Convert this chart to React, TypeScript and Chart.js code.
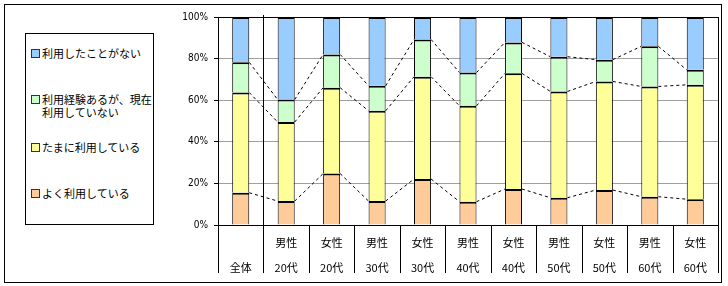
import React, { useEffect, useRef } from "react";
import { Chart, registerables } from "chart.js";

Chart.register(...registerables);

const categoriesTop = ["", "男性", "女性", "男性", "女性", "男性", "女性", "男性", "女性", "男性", "女性"];
const categoriesBottom = ["全体", "20代", "20代", "30代", "30代", "40代", "40代", "50代", "50代", "60代", "60代"];
const seriesNames = ["よく利用している", "たまに利用している", "利用経験あるが、現在利用していない", "利用したことがない"];
const oftenUse = [15.5, 11.5, 24.7, 11.5, 22.1, 11.2, 17.3, 13.1, 16.8, 13.6, 12.4];
const sometimesUse = [48.2, 38.0, 41.3, 43.4, 49.2, 46.1, 55.6, 51.1, 52.2, 53.0, 55.0];
const usedBefore = [14.5, 10.8, 16.0, 12.0, 17.9, 16.0, 14.9, 16.7, 10.5, 19.3, 7.2];
const neverUsed = [21.8, 39.7, 18.0, 33.1, 10.8, 26.7, 12.2, 19.1, 20.5, 14.1, 25.4];
const yTicks = [0, 20, 40, 60, 80, 100];

const colors = ["#FFCC99", "#FFFF99", "#CCFFCC", "#99CCFF"];

const legendItems = [
  { lines: ["利用したことがない"], color: colors[3], y: 53 },
  { lines: ["利用経験あるが、現在", "利用していない"], color: colors[2], y: 99 },
  { lines: ["たまに利用している"], color: colors[1], y: 147 },
  { lines: ["よく利用している"], color: colors[0], y: 193 },
];

const JP = "'Noto Sans CJK JP', 'Noto Sans', sans-serif";

const decorPlugin = {
  id: "decor",
  afterDatasetsDraw(chart: any) {
    const ctx = chart.ctx;
    const area = chart.chartArea;
    // dashed series lines
    ctx.save();
    ctx.strokeStyle = "#000";
    ctx.lineWidth = 1;
    ctx.setLineDash([3, 3]);
    for (let d = 0; d < 3; d++) {
      const meta = chart.getDatasetMeta(d);
      for (let i = 0; i < meta.data.length - 1; i++) {
        const a = meta.data[i] as any;
        const b = meta.data[i + 1] as any;
        ctx.beginPath();
        ctx.moveTo(a.x + a.width / 2, a.y);
        ctx.lineTo(b.x - b.width / 2, b.y);
        ctx.stroke();
      }
    }
    ctx.restore();
  },
  afterDraw(chart: any) {
    const ctx = chart.ctx;
    const area = chart.chartArea;
    const xs = chart.scales.x;
    ctx.save();
    ctx.strokeStyle = "#000";
    ctx.lineWidth = 1;
    ctx.setLineDash([]);
    // plot border
    ctx.strokeRect(Math.round(area.left) + 0.5, Math.round(area.top) + 0.5, Math.round(area.right - area.left), Math.round(area.bottom - area.top));
    const n = categoriesBottom.length;
    const step = (area.right - area.left) / n;
    const labelBottom = 273;
    for (let k = 0; k <= n; k++) {
      const x = Math.round(xs.getPixelForValue(k) - step / 2) + 0.5;
      ctx.beginPath();
      if (k === 1) {
        ctx.moveTo(x, area.top - 2);
      } else {
        ctx.moveTo(x, area.bottom);
      }
      ctx.lineTo(x, labelBottom);
      ctx.stroke();
    }
    ctx.fillStyle = "#000";
    ctx.font = "11px " + JP;
    ctx.textAlign = "center";
    ctx.textBaseline = "middle";
    for (let i = 0; i < n; i++) {
      const x = xs.getPixelForValue(i);
      if (categoriesTop[i]) ctx.fillText(categoriesTop[i], x, 243);
      ctx.fillText(categoriesBottom[i], x, 268);
    }
    ctx.restore();
  },
};

export default function App() {
  const ref = useRef<HTMLCanvasElement | null>(null);
  useEffect(() => {
    if (!ref.current) return;
    const seriesData = [oftenUse, sometimesUse, usedBefore, neverUsed];
    const chart = new Chart(ref.current, {
      type: "bar",
      data: {
        labels: categoriesBottom,
        datasets: seriesData.map((d, i) => ({
          label: seriesNames[i],
          data: d,
          backgroundColor: colors[i],
          borderColor: "#000",
          borderWidth: { top: 2, left: 1, right: 1, bottom: 0 },
          borderSkipped: false,
          categoryPercentage: 1,
          barPercentage: 0.375,
        })),
      },
      options: {
        animation: false,
        responsive: false,
        maintainAspectRatio: false,
        devicePixelRatio: 1,
        layout: { padding: { left: 0, top: 17, right: 10, bottom: 61 } },
        plugins: { legend: { display: false }, tooltip: { enabled: false } },
        scales: {
          x: { stacked: true, display: false },
          y: {
            stacked: true,
            min: 0,
            max: 100,
            afterFit: (s: any) => {
              s.width = 218;
            },
            afterBuildTicks: (s: any) => {
              s.ticks = yTicks.map((v) => ({ value: v }));
            },
            ticks: {
              padding: 6,
              color: "#000",
              font: { family: "'Liberation Sans Narrow', 'DejaVu Sans Condensed', 'Liberation Sans', sans-serif", size: 10 },
              callback: (v: any) => v + "%",
            },
            grid: { color: "#A0A0A0", tickColor: "#000", tickLength: 4, lineWidth: 1 },
            border: { display: true, color: "#000" },
          },
        },
      },
      plugins: [decorPlugin],
    });
    return () => chart.destroy();
  }, []);

  return (
    <div style={{ position: "absolute", left: 0, top: 0, width: 728, height: 286, background: "#fff" }}>
      <canvas ref={ref} width={728} height={286} style={{ position: "absolute", left: 0, top: 0, width: 728, height: 286 }} />
      <div style={{ position: "absolute", left: 4, top: 4, width: 716, height: 277, border: "1px solid #000", pointerEvents: "none" }} />
      <div style={{ position: "absolute", left: 25, top: 33, width: 127, height: 190, border: "1px solid #000", background: "#fff" }} />
      {legendItems.map((it, i) => (
        <React.Fragment key={i}>
          <div
            style={{
              position: "absolute",
              left: 31,
              top: it.y - 4,
              width: 7,
              height: 7,
              background: it.color,
              border: "1px solid #333",
            }}
          />
          {it.lines.map((ln, j) => (
            <div
              key={j}
              style={{
                position: "absolute",
                left: 42,
                top: it.y - 7 + j * 13,
                height: 14,
                lineHeight: "14px",
                fontSize: 11,
                fontFamily: JP,
                color: "#000",
                whiteSpace: "nowrap",
              }}
            >
              {ln}
            </div>
          ))}
        </React.Fragment>
      ))}
    </div>
  );
}
